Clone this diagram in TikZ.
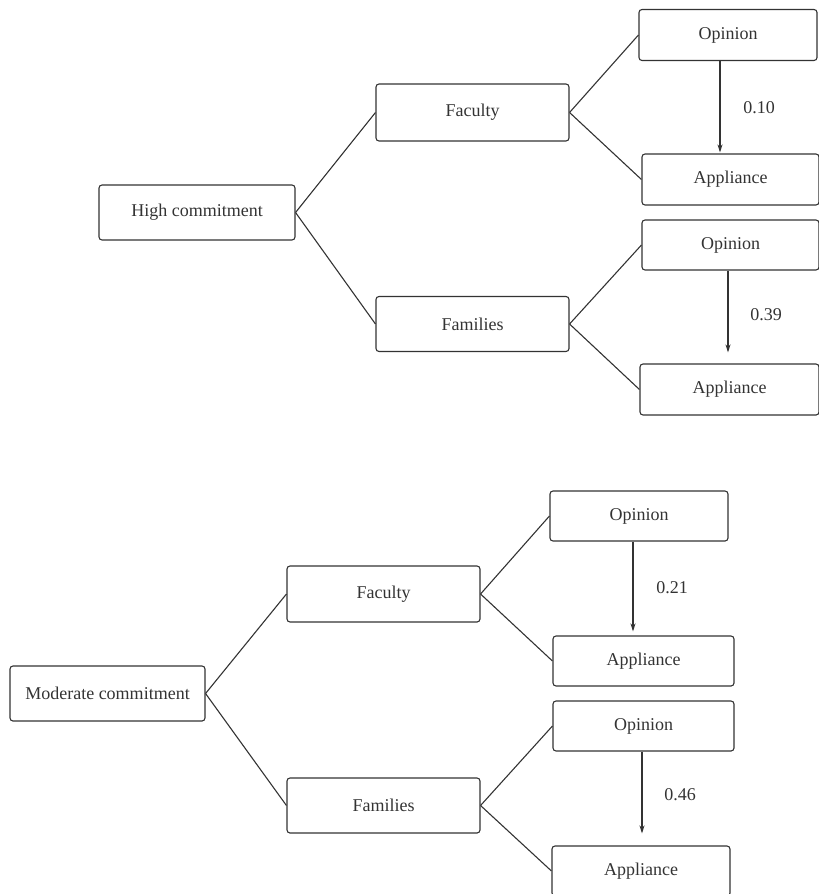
\documentclass[tikz,border=0pt]{standalone}
\usepackage{fontspec}
\setmainfont{Liberation Serif}
\usetikzlibrary{arrows.meta}
\definecolor{ink}{HTML}{333333}
\tikzset{
  box/.style={draw=ink, line width=1.1pt, rounded corners=3pt, inner sep=0pt, text=ink,
    font=\fontsize{18}{21}\selectfont},
  link/.style={draw=ink, line width=1.1pt},
  arr/.style={draw=ink, line width=1.1pt, -{Stealth[length=8pt,width=5pt]}},
  lbl/.style={text=ink, font=\fontsize{18}{21}\selectfont, inner sep=0pt}
}
\begin{document}
\begin{tikzpicture}[x=1pt,y=1pt]
\useasboundingbox (0,0) rectangle (819,-894);
% top tree
\node[box, minimum width=196pt, minimum height=55pt] (hc) at (197,-212.5) {High commitment};
\node[box, minimum width=193pt, minimum height=57pt] (fac1) at (472.5,-112.5) {Faculty};
\node[box, minimum width=193pt, minimum height=55pt] (fam1) at (472.5,-324) {Families};
\node[box, minimum width=178pt, minimum height=51pt] (op1) at (728,-35) {Opinion};
\node[box, minimum width=177pt, minimum height=51pt] (ap1) at (730.5,-179.5) {Appliance};
\node[box, minimum width=177pt, minimum height=50pt] (op2) at (730.5,-245) {Opinion};
\node[box, minimum width=179pt, minimum height=51pt] (ap2) at (729.5,-389.5) {Appliance};
\draw[link] (hc.east) -- (fac1.west);
\draw[link] (hc.east) -- (fam1.west);
\draw[link] (fac1.east) -- (op1.west);
\draw[link] (fac1.east) -- (ap1.west);
\draw[link] (fam1.east) -- (op2.west);
\draw[link] (fam1.east) -- (ap2.west);
\coordinate (e1) at ([xshift=-8pt]op1.south |- ap1.north);
\draw[arr] ([xshift=-8pt]op1.south) -- ([yshift=1pt]e1);
\node[lbl] (l1) at (759,-108) {0.10};
\coordinate (e2) at ([xshift=-2.5pt]op2.south |- ap2.north);
\draw[arr] ([xshift=-2.5pt]op2.south) -- ([yshift=11pt]e2);
\node[lbl] (l2) at (766,-315) {0.39};
% bottom tree
\node[box, minimum width=195pt, minimum height=55pt] (mc) at (107.5,-693.5) {Moderate commitment};
\node[box, minimum width=193pt, minimum height=56pt] (fac2) at (383.5,-594) {Faculty};
\node[box, minimum width=193pt, minimum height=55pt] (fam2) at (383.5,-805.5) {Families};
\node[box, minimum width=178pt, minimum height=50pt] (op3) at (639,-516) {Opinion};
\node[box, minimum width=181pt, minimum height=50pt] (ap3) at (643.5,-661) {Appliance};
\node[box, minimum width=181pt, minimum height=50pt] (op4) at (643.5,-726) {Opinion};
\node[box, minimum width=178pt, minimum height=50pt] (ap4) at (641,-871) {Appliance};
\draw[link] (mc.east) -- (fac2.west);
\draw[link] (mc.east) -- (fam2.west);
\draw[link] (fac2.east) -- (op3.west);
\draw[link] (fac2.east) -- (ap3.west);
\draw[link] (fam2.east) -- (op4.west);
\draw[link] (fam2.east) -- (ap4.west);
\coordinate (e3) at ([xshift=-6pt]op3.south |- ap3.north);
\draw[arr] ([xshift=-6pt]op3.south) -- ([yshift=4pt]e3);
\node[lbl] (l3) at (672,-588) {0.21};
\coordinate (e4) at ([xshift=-1.5pt]op4.south |- ap4.north);
\draw[arr] ([xshift=-1.5pt]op4.south) -- ([yshift=12pt]e4);
\node[lbl] (l4) at (680,-795) {0.46};
\end{tikzpicture}
\end{document}
